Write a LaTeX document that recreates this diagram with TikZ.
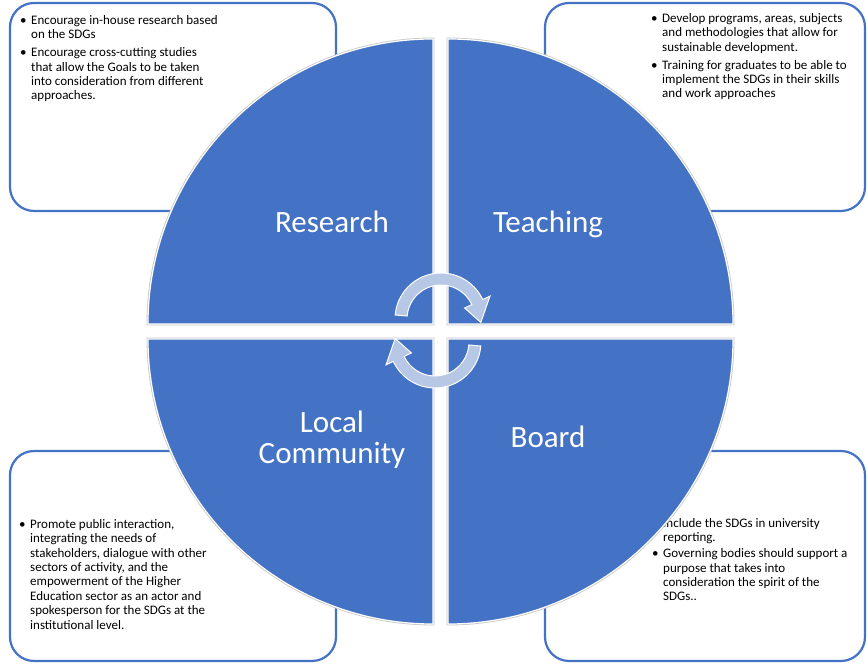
\documentclass[tikz,border=0pt]{standalone}
\usepackage{fontspec}
\setmainfont{Carlito}
\definecolor{quadblue}{RGB}{68,114,196}
\definecolor{arrowfill}{RGB}{183,199,230}

\begin{document}
\begin{tikzpicture}[x=1pt,y=1pt,
  infobox/.style={draw=quadblue, line width=2.2pt, fill=white, rounded corners=24pt},
  quad/.style={fill=quadblue, draw=white, line width=1.2pt},
  quadshadow/.style={draw=black!22, line width=2.8pt},
  cyclearrow/.style={fill=arrowfill, draw=white, line width=1pt},
  boxtext/.style={anchor=north west, inner sep=0pt, font=\fontsize{13}{14.4}\selectfont},
  quadlabel/.style={text=white, font=\fontsize{31}{31}\selectfont, align=center}]
\useasboundingbox (0,0) rectangle (867,668);
\fill[white] (0,0) rectangle (867,668);

\draw[infobox] (10,457) rectangle (336,665);
\draw[infobox] (545,457) rectangle (865,665);
\draw[infobox] (10,7) rectangle (336,217);
\draw[infobox] (545,7) rectangle (865,217);

\node[boxtext] (researchtext) at (20,654) {\begin{tabular}{@{}p{11pt}@{}l@{}}
\textbullet & Encourage in-house research based\\ & on the SDGs\\[3.6pt]
\textbullet & Encourage cross-cutting studies\\ & that allow the Goals to be taken\\
 & into consideration from different\\ & approaches.
\end{tabular}};
\node[boxtext] (teachingtext) at (651,656) {\begin{tabular}{@{}p{11pt}@{}l@{}}
\textbullet & Develop programs, areas, subjects\\ & and methodologies that allow for\\
 & sustainable development.\\[3.6pt]
\textbullet & Training for graduates to be able to\\ & implement the SDGs in their skills\\
 & and work approaches
\end{tabular}};
\node[boxtext] (communitytext) at (19,150) {\begin{tabular}{@{}p{11pt}@{}l@{}}
\textbullet & Promote public interaction,\\ & integrating the needs of\\
 & stakeholders, dialogue with other\\ & sectors of activity, and the\\
 & empowerment of the Higher\\ & Education sector as an actor and\\
 & spokesperson for the SDGs at the\\ & institutional level.
\end{tabular}};
\node[boxtext] (boardtext) at (652,151) {\begin{tabular}{@{}p{11pt}@{}l@{}}
\textbullet & Include the SDGs in university\\ & reporting.\\[1.6pt]
\textbullet & Governing bodies should support a\\ & purpose that takes into\\
 & consideration the spirit of the\\ & SDGs..
\end{tabular}};

% quadrants
\draw[quadshadow] (433,344) -- (148,344) arc[start angle=180, end angle=90, radius=285] -- cycle;
\draw[quadshadow] (448,344) -- (448,629) arc[start angle=90, end angle=0, radius=285] -- cycle;
\draw[quadshadow] (433,329) -- (433,44) arc[start angle=270, end angle=180, radius=285] -- cycle;
\draw[quadshadow] (448,329) -- (733,329) arc[start angle=0, end angle=-90, radius=285] -- cycle;
\draw[quad] (433,344) -- (148,344) arc[start angle=180, end angle=90, radius=285] -- cycle;
\draw[quad] (448,344) -- (448,629) arc[start angle=90, end angle=0, radius=285] -- cycle;
\draw[quad] (433,329) -- (433,44) arc[start angle=270, end angle=180, radius=285] -- cycle;
\draw[quad] (448,329) -- (733,329) arc[start angle=0, end angle=-90, radius=285] -- cycle;

% cycle arrows
\begin{scope}[shift={(441,349)}]
\draw[cyclearrow] (175:46) arc[start angle=175, end angle=25, radius=46] -- (25:54) -- (-5:40) -- (25:26) -- (25:34) arc[start angle=25, end angle=175, radius=34] -- cycle;
\end{scope}
\begin{scope}[shift={(435,326)}, rotate=180]
\draw[cyclearrow] (175:46) arc[start angle=175, end angle=25, radius=46] -- (25:54) -- (-5:40) -- (25:26) -- (25:34) arc[start angle=25, end angle=175, radius=34] -- cycle;
\end{scope}

\node[quadlabel, anchor=base] (research) at (332,435) {Research};
\node[quadlabel, anchor=base] (teaching) at (548,435) {Teaching};
\node[quadlabel] (community) at (332,228) {Local\\Community};
\node[quadlabel, anchor=base] (board) at (548,220) {Board};
\end{tikzpicture}
\end{document}
